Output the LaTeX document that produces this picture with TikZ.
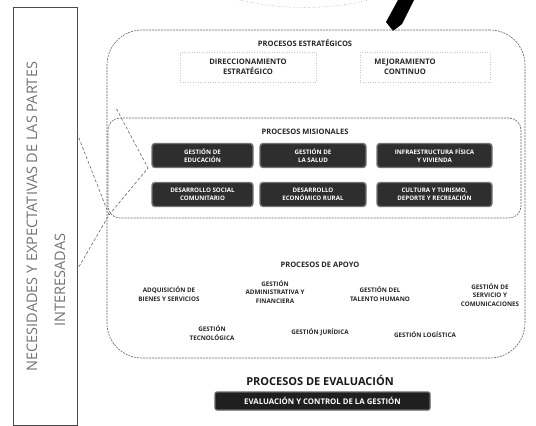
\documentclass[tikz,border=0pt]{standalone}
\usepackage{fontspec}
\setmainfont{Open Sans}
\begin{document}
\begin{tikzpicture}[x=1pt,y=-1pt,
  frame/.style={draw=black!60, dash pattern=on 2pt off 1pt, line width=0.6pt},
  title/.style={font=\bfseries\fontsize{7.5}{8}\selectfont, text=black!85},
  misbox/.style={fill=black!82, draw=black!55, line width=1.4pt, rounded corners=3pt,
    minimum height=24pt, text=white, font=\bfseries\fontsize{6.2}{8}\selectfont,
    align=center, inner sep=1pt},
  apoyo/.style={font=\bfseries\fontsize{6.3}{8.2}\selectfont, align=center, text=black!85},
  estr/.style={font=\bfseries\fontsize{7.6}{9.5}\selectfont, align=center, text=black!85},
  faint/.style={draw=black!22, dotted, line width=0.5pt},
  link/.style={draw=black!60, densely dashed, line width=0.6pt},
  sidetext/.style={rotate=90, text=black!55, font=\fontsize{14.5}{15}\selectfont}
]
\useasboundingbox (0,0) rectangle (536,426);

% top decoration
\draw[faint, draw=black!45] (240,0) .. controls (280,10) and (330,10) .. (368,0);
\fill[black] (398,0) -- (414,0) -- (402,24) -- (393,31) -- (386,22) -- cycle;

% left box
\node[draw=black!70, line width=0.8pt, minimum width=64pt, minimum height=418pt, inner sep=0pt]
  (partes) at (45,216) {};
\node[sidetext, anchor=west] (needs) at (32,375) {NECESIDADES Y EXPECTATIVAS DE LAS PARTES};
\node[sidetext] (inter) at (60,280) {INTERESADAS};

% main frame
\node[frame, rounded corners=35pt, minimum width=418pt, minimum height=328pt, inner sep=0pt]
  (main) at (316,194) {};
% misional frame
\node[frame, rounded corners=12pt, minimum width=413pt, minimum height=100pt, inner sep=0pt]
  (misframe) at (314.5,168) {};

% connectors
\coordinate (A) at (77,133);
\coordinate (B) at (77,270);
\coordinate (V) at (109,215);
\coordinate (C) at (148,168);
\coordinate (D) at (116,108);
\draw[link] (A) -- (V) -- (B);
\draw[link] (V) -- (C) -- (D);

% strategic
\node[title] (tEst) at (305,43) {PROCESOS ESTRATÉGICOS};
\node[faint, minimum width=136pt, minimum height=30pt] (bDir) at (248,67) {};
\node[estr] (dir) at (248,67) {DIRECCIONAMIENTO\\ESTRATÉGICO};
\node[faint, minimum width=130pt, minimum height=30pt] (bMej) at (425,67) {};
\node[estr] (mej) at (405,67) {MEJORAMIENTO\\CONTINUO};

% misional
\node[title] (tMis) at (305,132) {PROCESOS MISIONALES};
\node[misbox, minimum width=101pt] (m1) at (202.5,155.5) {GESTIÓN DE\\EDUCACIÓN};
\node[misbox, minimum width=106pt] (m2) at (313,155.5) {GESTIÓN DE\\LA SALUD};
\node[misbox, minimum width=115pt] (m3) at (434.5,155.5) {INFRAESTRUCTURA FÍSICA\\Y VIVIENDA};
\node[misbox, minimum width=101pt] (m4) at (202.5,194.5) {DESARROLLO SOCIAL\\COMUNITARIO};
\node[misbox, minimum width=106pt] (m5) at (313,194.5) {DESARROLLO\\ECONÓMICO RURAL};
\node[misbox, minimum width=115pt] (m6) at (434.5,194.5) {CULTURA Y TURISMO,\\DEPORTE Y RECREACIÓN};

% apoyo
\node[title] (tApo) at (320,265) {PROCESOS DE APOYO};
\node[apoyo] (a1) at (169,294) {ADQUISICIÓN DE\\BIENES Y SERVICIOS};
\node[apoyo] (a2) at (275,292) {GESTIÓN\\ADMINISTRATIVA Y\\FINANCIERA};
\node[apoyo] (a3) at (380,294) {GESTIÓN DEL\\TALENTO HUMANO};
\node[apoyo] (a4) at (490,295) {GESTIÓN DE\\SERVICIO Y\\COMUNICACIONES};
\node[apoyo] (a5) at (212,333) {GESTIÓN\\TECNOLÓGICA};
\node[apoyo] (a6) at (320,332) {GESTIÓN JURÍDICA};
\node[apoyo] (a7) at (425,335) {GESTIÓN LOGÍSTICA};

% evaluacion
\node[font=\bfseries\fontsize{11}{12}\selectfont, text=black!90] (tEva) at (320,380) {PROCESOS DE EVALUACIÓN};
\node[fill=black!88, draw=black!60, line width=1.2pt, rounded corners=2pt, minimum width=215pt,
  minimum height=18pt, text=white, font=\bfseries\fontsize{7.8}{8}\selectfont] (eva) at (322.5,401)
  {EVALUACIÓN Y CONTROL DE LA GESTIÓN};
\end{tikzpicture}
\end{document}
